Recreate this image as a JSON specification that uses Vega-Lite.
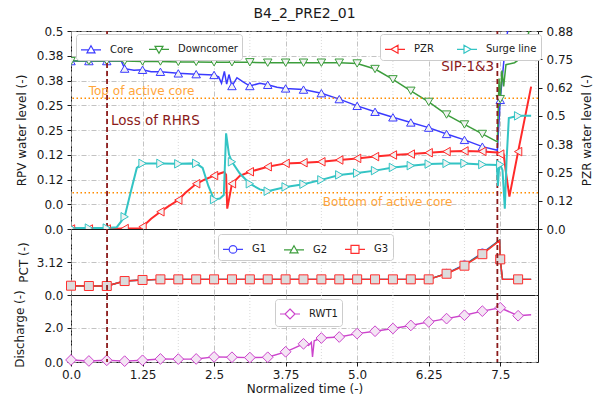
{
  "$schema": "https://vega.github.io/schema/vega-lite/v6.json",
  "background": "white",
  "padding": {"left": 12, "top": 6, "right": 5, "bottom": 5},
  "title": {"text": "B4_2_PRE2_01", "fontSize": 14, "font": "DejaVu Sans", "fontWeight": "normal", "anchor": "middle", "frame": "group", "offset": 4, "color": "#1a1a1a"},
  "datasets": {
    "rpv": [
      {"s":"Core","t":0,"v":0.424,"m":1},{"s":"Core","t":0.3125,"v":0.424,"m":1},{"s":"Core","t":0.625,"v":0.424,"m":1},{"s":"Core","t":0.88,"v":0.424},
      {"s":"Core","t":0.9375,"v":0.405,"m":1},{"s":"Core","t":1.1,"v":0.401},{"s":"Core","t":1.25,"v":0.402,"m":1},{"s":"Core","t":1.4,"v":0.397},
      {"s":"Core","t":1.5625,"v":0.397,"m":1},{"s":"Core","t":1.875,"v":0.393,"m":1},{"s":"Core","t":2.1875,"v":0.391,"m":1},{"s":"Core","t":2.5,"v":0.389,"m":1},
      {"s":"Core","t":2.58,"v":0.384},{"s":"Core","t":2.63,"v":0.368},{"s":"Core","t":2.68,"v":0.398},{"s":"Core","t":2.72,"v":0.366},{"s":"Core","t":2.76,"v":0.39},
      {"s":"Core","t":2.8125,"v":0.361,"m":1},{"s":"Core","t":2.9,"v":0.382},{"s":"Core","t":3.0,"v":0.372},{"s":"Core","t":3.125,"v":0.361,"m":1},{"s":"Core","t":3.3,"v":0.368},
      {"s":"Core","t":3.4375,"v":0.364,"m":1},{"s":"Core","t":3.6,"v":0.358},{"s":"Core","t":3.75,"v":0.355,"m":1},{"s":"Core","t":4.0625,"v":0.352,"m":1},
      {"s":"Core","t":4.375,"v":0.343,"m":1},{"s":"Core","t":4.6875,"v":0.328,"m":1},{"s":"Core","t":5.0,"v":0.311,"m":1},{"s":"Core","t":5.3125,"v":0.296,"m":1},
      {"s":"Core","t":5.625,"v":0.282,"m":1},{"s":"Core","t":5.9375,"v":0.269,"m":1},{"s":"Core","t":6.25,"v":0.256,"m":1},{"s":"Core","t":6.5625,"v":0.24,"m":1},
      {"s":"Core","t":6.875,"v":0.225,"m":1},{"s":"Core","t":7.1875,"v":0.208,"m":1},{"s":"Core","t":7.45,"v":0.199},{"s":"Core","t":7.5,"v":0.326,"m":1},
      {"s":"Core","t":7.58,"v":0.45},{"s":"Core","t":7.66,"v":0.53},{"s":"Core","t":8.04,"v":0.9},
      {"s":"Downcomer","t":0,"v":0.424,"m":1},{"s":"Downcomer","t":0.3125,"v":0.424,"m":1},{"s":"Downcomer","t":0.625,"v":0.424,"m":1},{"s":"Downcomer","t":0.9375,"v":0.424,"m":1},
      {"s":"Downcomer","t":1.25,"v":0.423,"m":1},{"s":"Downcomer","t":1.5625,"v":0.423,"m":1},{"s":"Downcomer","t":1.875,"v":0.422,"m":1},{"s":"Downcomer","t":2.1875,"v":0.422,"m":1},
      {"s":"Downcomer","t":2.5,"v":0.421,"m":1},{"s":"Downcomer","t":2.8125,"v":0.421,"m":1},{"s":"Downcomer","t":3.125,"v":0.421,"m":1},{"s":"Downcomer","t":3.4375,"v":0.42,"m":1},
      {"s":"Downcomer","t":3.75,"v":0.42,"m":1},{"s":"Downcomer","t":4.0625,"v":0.42,"m":1},{"s":"Downcomer","t":4.375,"v":0.42,"m":1},{"s":"Downcomer","t":4.6875,"v":0.42,"m":1},
      {"s":"Downcomer","t":5.0,"v":0.418,"m":1},{"s":"Downcomer","t":5.3125,"v":0.404,"m":1},{"s":"Downcomer","t":5.625,"v":0.378,"m":1},{"s":"Downcomer","t":5.9375,"v":0.349,"m":1},
      {"s":"Downcomer","t":6.25,"v":0.321,"m":1},{"s":"Downcomer","t":6.5625,"v":0.289,"m":1},{"s":"Downcomer","t":6.875,"v":0.264,"m":1},{"s":"Downcomer","t":7.1875,"v":0.24,"m":1},
      {"s":"Downcomer","t":7.45,"v":0.22},{"s":"Downcomer","t":7.47,"v":0.33},{"s":"Downcomer","t":7.48,"v":0.38},{"s":"Downcomer","t":7.49,"v":0.31},{"s":"Downcomer","t":7.5,"v":0.328,"m":1},
      {"s":"Downcomer","t":7.53,"v":0.4},{"s":"Downcomer","t":7.56,"v":0.36},{"s":"Downcomer","t":7.6,"v":0.415},{"s":"Downcomer","t":7.75,"v":0.42},{"s":"Downcomer","t":7.8,"v":0.425},
      {"s":"Downcomer","t":7.85,"v":0.44},{"s":"Downcomer","t":7.95,"v":0.46},{"s":"Downcomer","t":8.04,"v":0.53}
    ],
    "pzr": [
      {"s":"PZR","t":0,"v":0,"m":1},{"s":"PZR","t":0.3125,"v":0,"m":1},{"s":"PZR","t":0.625,"v":0,"m":1},{"s":"PZR","t":0.9375,"v":0.002,"m":1},{"s":"PZR","t":1.2,"v":0.002},
      {"s":"PZR","t":1.25,"v":0.01,"m":1},{"s":"PZR","t":1.4,"v":0.045},{"s":"PZR","t":1.5625,"v":0.076,"m":1},{"s":"PZR","t":1.7,"v":0.1},{"s":"PZR","t":1.875,"v":0.128,"m":1},
      {"s":"PZR","t":2.0,"v":0.16},{"s":"PZR","t":2.1875,"v":0.2,"m":1},{"s":"PZR","t":2.35,"v":0.22},{"s":"PZR","t":2.5,"v":0.236,"m":1},{"s":"PZR","t":2.6,"v":0.245},
      {"s":"PZR","t":2.68,"v":0.252},{"s":"PZR","t":2.71,"v":0.24},{"s":"PZR","t":2.73,"v":0.09},{"s":"PZR","t":2.76,"v":0.13},{"s":"PZR","t":2.8125,"v":0.2,"m":1},
      {"s":"PZR","t":2.95,"v":0.235},{"s":"PZR","t":3.125,"v":0.253,"m":1},{"s":"PZR","t":3.4375,"v":0.275,"m":1},{"s":"PZR","t":3.75,"v":0.29,"m":1},{"s":"PZR","t":4.0625,"v":0.293,"m":1},
      {"s":"PZR","t":4.375,"v":0.297,"m":1},{"s":"PZR","t":4.6875,"v":0.305,"m":1},{"s":"PZR","t":5.0,"v":0.312,"m":1},{"s":"PZR","t":5.3125,"v":0.32,"m":1},{"s":"PZR","t":5.625,"v":0.327,"m":1},
      {"s":"PZR","t":5.9375,"v":0.331,"m":1},{"s":"PZR","t":6.25,"v":0.337,"m":1},{"s":"PZR","t":6.5625,"v":0.342,"m":1},{"s":"PZR","t":6.875,"v":0.345,"m":1},{"s":"PZR","t":7.1875,"v":0.343,"m":1},
      {"s":"PZR","t":7.45,"v":0.338},{"s":"PZR","t":7.5,"v":0.331,"m":1},{"s":"PZR","t":7.56,"v":0.33},{"s":"PZR","t":7.6,"v":0.25},{"s":"PZR","t":7.66,"v":0.143},
      {"s":"PZR","t":7.8125,"v":0.342,"m":1},{"s":"PZR","t":8.04,"v":0.629},
      {"s":"Surge line","t":0,"v":0.004,"m":1},{"s":"Surge line","t":0.3125,"v":0.004,"m":1},{"s":"Surge line","t":0.625,"v":0.004,"m":1},{"s":"Surge line","t":0.8,"v":0.008},
      {"s":"Surge line","t":0.9375,"v":0.054,"m":1},{"s":"Surge line","t":1.05,"v":0.17},{"s":"Surge line","t":1.15,"v":0.27},{"s":"Surge line","t":1.25,"v":0.29,"m":1},
      {"s":"Surge line","t":1.5625,"v":0.29,"m":1},{"s":"Surge line","t":1.875,"v":0.288,"m":1},{"s":"Surge line","t":2.1875,"v":0.29,"m":1},{"s":"Surge line","t":2.3,"v":0.27},
      {"s":"Surge line","t":2.4,"v":0.19},{"s":"Surge line","t":2.5,"v":0.13,"m":1},{"s":"Surge line","t":2.6,"v":0.135},{"s":"Surge line","t":2.67,"v":0.15},
      {"s":"Surge line","t":2.71,"v":0.423},{"s":"Surge line","t":2.76,"v":0.33},{"s":"Surge line","t":2.8125,"v":0.297,"m":1},{"s":"Surge line","t":2.95,"v":0.245},
      {"s":"Surge line","t":3.125,"v":0.2,"m":1},{"s":"Surge line","t":3.3,"v":0.175},{"s":"Surge line","t":3.4375,"v":0.167,"m":1},{"s":"Surge line","t":3.75,"v":0.186,"m":1},
      {"s":"Surge line","t":4.0625,"v":0.198,"m":1},{"s":"Surge line","t":4.375,"v":0.217,"m":1},{"s":"Surge line","t":4.6875,"v":0.239,"m":1},{"s":"Surge line","t":5.0,"v":0.247,"m":1},
      {"s":"Surge line","t":5.3125,"v":0.258,"m":1},{"s":"Surge line","t":5.625,"v":0.272,"m":1},{"s":"Surge line","t":5.9375,"v":0.28,"m":1},{"s":"Surge line","t":6.25,"v":0.287,"m":1},
      {"s":"Surge line","t":6.5625,"v":0.29,"m":1},{"s":"Surge line","t":6.875,"v":0.29,"m":1},{"s":"Surge line","t":7.1875,"v":0.285,"m":1},{"s":"Surge line","t":7.44,"v":0.283},
      {"s":"Surge line","t":7.46,"v":0.19},{"s":"Surge line","t":7.48,"v":0.27},{"s":"Surge line","t":7.5,"v":0.285,"m":1},{"s":"Surge line","t":7.54,"v":0.26},
      {"s":"Surge line","t":7.58,"v":0.09},{"s":"Surge line","t":7.61,"v":0.3},{"s":"Surge line","t":7.65,"v":0.49},{"s":"Surge line","t":7.8125,"v":0.5,"m":1},{"s":"Surge line","t":8.04,"v":0.5}
    ],
    "pct": [
      {"s":"G1","t":0,"v":0.88,"m":1},{"s":"G1","t":0.3125,"v":0.85,"m":1},{"s":"G1","t":0.625,"v":0.85,"m":1},{"s":"G1","t":0.9375,"v":1.32,"m":1},{"s":"G1","t":1.25,"v":1.42,"m":1},
      {"s":"G1","t":1.5625,"v":1.48,"m":1},{"s":"G1","t":1.875,"v":1.48,"m":1},{"s":"G1","t":2.1875,"v":1.48,"m":1},{"s":"G1","t":2.5,"v":1.48,"m":1},{"s":"G1","t":2.8125,"v":1.48,"m":1},
      {"s":"G1","t":3.125,"v":1.48,"m":1},{"s":"G1","t":3.4375,"v":1.48,"m":1},{"s":"G1","t":3.75,"v":1.48,"m":1},{"s":"G1","t":4.0625,"v":1.48,"m":1},{"s":"G1","t":4.375,"v":1.48,"m":1},
      {"s":"G1","t":4.6875,"v":1.48,"m":1},{"s":"G1","t":5.0,"v":1.48,"m":1},{"s":"G1","t":5.3125,"v":1.48,"m":1},{"s":"G1","t":5.625,"v":1.48,"m":1},{"s":"G1","t":5.9375,"v":1.48,"m":1},
      {"s":"G1","t":6.25,"v":1.48,"m":1},{"s":"G1","t":6.5625,"v":2.05,"m":1},{"s":"G1","t":6.875,"v":2.86,"m":1},{"s":"G1","t":7.1875,"v":3.98,"m":1},{"s":"G1","t":7.49,"v":5.2},
      {"s":"G1","t":7.5,"v":3.37,"m":1},{"s":"G1","t":7.54,"v":1.48},{"s":"G1","t":7.8125,"v":1.48,"m":1},{"s":"G1","t":8.04,"v":1.48},
      {"s":"G2","t":0,"v":0.88,"m":1},{"s":"G2","t":0.3125,"v":0.85,"m":1},{"s":"G2","t":0.625,"v":0.85,"m":1},{"s":"G2","t":0.9375,"v":1.32,"m":1},{"s":"G2","t":1.25,"v":1.42,"m":1},
      {"s":"G2","t":1.5625,"v":1.48,"m":1},{"s":"G2","t":1.875,"v":1.48,"m":1},{"s":"G2","t":2.1875,"v":1.48,"m":1},{"s":"G2","t":2.5,"v":1.48,"m":1},{"s":"G2","t":2.8125,"v":1.48,"m":1},
      {"s":"G2","t":3.125,"v":1.48,"m":1},{"s":"G2","t":3.4375,"v":1.48,"m":1},{"s":"G2","t":3.75,"v":1.48,"m":1},{"s":"G2","t":4.0625,"v":1.48,"m":1},{"s":"G2","t":4.375,"v":1.48,"m":1},
      {"s":"G2","t":4.6875,"v":1.48,"m":1},{"s":"G2","t":5.0,"v":1.48,"m":1},{"s":"G2","t":5.3125,"v":1.48,"m":1},{"s":"G2","t":5.625,"v":1.48,"m":1},{"s":"G2","t":5.9375,"v":1.48,"m":1},
      {"s":"G2","t":6.25,"v":1.48,"m":1},{"s":"G2","t":6.5625,"v":2.03,"m":1},{"s":"G2","t":6.875,"v":2.82,"m":1},{"s":"G2","t":7.1875,"v":3.93,"m":1},{"s":"G2","t":7.49,"v":5.18},
      {"s":"G2","t":7.5,"v":3.37,"m":1},{"s":"G2","t":7.54,"v":1.48},{"s":"G2","t":7.8125,"v":1.48,"m":1},{"s":"G2","t":8.04,"v":1.48},
      {"s":"G3","t":0,"v":0.88,"m":1},{"s":"G3","t":0.3125,"v":0.85,"m":1},{"s":"G3","t":0.625,"v":0.85,"m":1},{"s":"G3","t":0.9375,"v":1.32,"m":1},{"s":"G3","t":1.25,"v":1.42,"m":1},
      {"s":"G3","t":1.5625,"v":1.48,"m":1},{"s":"G3","t":1.875,"v":1.48,"m":1},{"s":"G3","t":2.1875,"v":1.48,"m":1},{"s":"G3","t":2.5,"v":1.48,"m":1},{"s":"G3","t":2.8125,"v":1.48,"m":1},
      {"s":"G3","t":3.125,"v":1.48,"m":1},{"s":"G3","t":3.4375,"v":1.48,"m":1},{"s":"G3","t":3.75,"v":1.48,"m":1},{"s":"G3","t":4.0625,"v":1.48,"m":1},{"s":"G3","t":4.375,"v":1.48,"m":1},
      {"s":"G3","t":4.6875,"v":1.48,"m":1},{"s":"G3","t":5.0,"v":1.48,"m":1},{"s":"G3","t":5.3125,"v":1.48,"m":1},{"s":"G3","t":5.625,"v":1.48,"m":1},{"s":"G3","t":5.9375,"v":1.48,"m":1},
      {"s":"G3","t":6.25,"v":1.48,"m":1},{"s":"G3","t":6.5625,"v":2.01,"m":1},{"s":"G3","t":6.875,"v":2.77,"m":1},{"s":"G3","t":7.1875,"v":3.86,"m":1},{"s":"G3","t":7.49,"v":5.13},
      {"s":"G3","t":7.5,"v":3.37,"m":1},{"s":"G3","t":7.54,"v":1.48},{"s":"G3","t":7.8125,"v":1.48,"m":1},{"s":"G3","t":8.04,"v":1.48}
    ],
    "rwt": [
      {"s":"RWT1","t":0,"v":0.12,"m":1},{"s":"RWT1","t":0.3125,"v":0.06,"m":1},{"s":"RWT1","t":0.625,"v":0.1,"m":1},{"s":"RWT1","t":0.9375,"v":0.05,"m":1},{"s":"RWT1","t":1.25,"v":0.1,"m":1},
      {"s":"RWT1","t":1.5625,"v":0.18,"m":1},{"s":"RWT1","t":1.875,"v":0.17,"m":1},{"s":"RWT1","t":2.1875,"v":0.18,"m":1},{"s":"RWT1","t":2.5,"v":0.3,"m":1},{"s":"RWT1","t":2.8125,"v":0.28,"m":1},
      {"s":"RWT1","t":3.125,"v":0.26,"m":1},{"s":"RWT1","t":3.4375,"v":0.28,"m":1},{"s":"RWT1","t":3.75,"v":0.6,"m":1},{"s":"RWT1","t":3.9,"v":0.82},{"s":"RWT1","t":4.0625,"v":1.07,"m":1},
      {"s":"RWT1","t":4.15,"v":0.98},{"s":"RWT1","t":4.2,"v":1.15},{"s":"RWT1","t":4.22,"v":0.3},{"s":"RWT1","t":4.25,"v":1.25},{"s":"RWT1","t":4.375,"v":1.41,"m":1},
      {"s":"RWT1","t":4.6875,"v":1.47,"m":1},{"s":"RWT1","t":5.0,"v":1.67,"m":1},{"s":"RWT1","t":5.3125,"v":1.81,"m":1},{"s":"RWT1","t":5.625,"v":1.97,"m":1},{"s":"RWT1","t":5.9375,"v":2.15,"m":1},
      {"s":"RWT1","t":6.25,"v":2.36,"m":1},{"s":"RWT1","t":6.5625,"v":2.55,"m":1},{"s":"RWT1","t":6.875,"v":2.75,"m":1},{"s":"RWT1","t":7.1875,"v":2.99,"m":1},{"s":"RWT1","t":7.5,"v":3.19,"m":1},
      {"s":"RWT1","t":7.8125,"v":2.72,"m":1},{"s":"RWT1","t":8.04,"v":2.78}
    ],
    "minor": [{"t":0.625},{"t":1.875},{"t":3.125},{"t":4.375},{"t":5.625},{"t":6.875},{"t":8.125}],
    "events": [{"t":0.63},{"t":7.45}],
    "cores": [{"v":0.33},{"v":0.0917}],
    "coreText": [{"t":0.31,"v":0.338,"label":"Top of active core"},{"t":4.4,"v":0.058,"label":"Bottom of active core"}],
    "lossText": [{"t":0.7,"v":0.263,"label":"Loss of RHRS"}],
    "sipText": [{"t":7.395,"v":0.4,"label":"SIP-1&3"}]
  },
  "spacing": 0,
  "bounds": "flush",
  "resolve": {"scale": {"color": "independent", "x": "independent", "y": "independent"}, "legend": {"color": "independent"}},
  "vconcat": [
    {
      "width": 467, "height": 198,
      "resolve": {"scale": {"y": "independent", "color": "independent"}, "axis": {"y": "independent"}, "legend": {"color": "independent"}},
      "layer": [
        {
          "layer": [
            {"data": {"name": "minor"}, "mark": {"type": "rule", "color": "#d0d0d0", "strokeDash": [1, 2], "strokeWidth": 0.8},
             "encoding": {"x": {"field": "t", "type": "quantitative", "scale": {"domain": [0, 8.16], "nice": false, "zero": false}}}},
            {"data": {"name": "rpv"}, "mark": {"type": "line", "strokeWidth": 1.5, "clip": true},
             "encoding": {
               "x": {"field": "t", "type": "quantitative", "scale": {"domain": [0, 8.16], "nice": false, "zero": false},
                     "axis": {"labels": false, "ticks": false, "domain": false, "title": null, "grid": true, "tickCount": 20, "values": [0, 1.25, 2.5, 3.75, 5, 6.25, 7.5]}},
               "y": {"field": "v", "type": "quantitative", "scale": {"domain": [0, 0.5], "nice": false, "zero": false},
                     "axis": {"orient": "left", "values": [0, 0.0625, 0.125, 0.1875, 0.25, 0.3125, 0.375, 0.4375, 0.5], "tickCount": 20, "labelOverlap": false, "labelFlush": false,
                              "labelExpr": "datum.value >= 0.5 ? '0.5' : datum.value >= 0.375 ? '0.38' : datum.value >= 0.25 ? '0.25' : datum.value >= 0.125 ? '0.12' : '0.0'",
                              "title": "RPV water level (-)", "titleX": -50, "titleY": 99, "titleBaseline": "middle", "titleAngle": 270, "grid": true}},
               "color": {"field": "s", "type": "nominal", "scale": {"domain": ["Core", "Downcomer"], "range": ["#3a3aff", "#3c9d3c"]},
                         "legend": {"title": null, "orient": "none", "legendX": 5, "legendY": 3, "direction": "horizontal", "columnPadding": 12,
                                    "encode": {"symbols": {"update": {"fill": {"value": "white"}, "shape": {"signal": "datum.value === 'Core' ? 'M-1,0H-0.23M0.23,0H1M0,-0.4L0.4,0.3L-0.4,0.3Z' : 'M-1,0H-0.23M0.23,0H1M0,0.4L0.4,-0.3L-0.4,-0.3Z'"}}}}}}
             }},
            {"data": {"name": "cores"}, "mark": {"type": "rule", "color": "#ff8c00", "strokeDash": [1.5, 2.5], "strokeWidth": 1.6},
             "encoding": {"y": {"field": "v", "type": "quantitative", "scale": {"domain": [0, 0.5], "nice": false, "zero": false}}}},
            {"data": {"name": "rpv"}, "transform": [{"filter": "datum.s === 'Core' && datum.m === 1"}],
             "mark": {"type": "point", "shape": "triangle-up", "size": 72, "filled": true, "fill": "#f2f2f2", "stroke": "#3a3aff", "strokeWidth": 1, "opacity": 1, "clip": true},
             "encoding": {"x": {"field": "t", "type": "quantitative", "scale": {"domain": [0, 8.16], "nice": false, "zero": false}},
                          "y": {"field": "v", "type": "quantitative", "scale": {"domain": [0, 0.5], "nice": false, "zero": false}}}},
            {"data": {"name": "rpv"}, "transform": [{"filter": "datum.s === 'Downcomer' && datum.m === 1"}],
             "mark": {"type": "point", "shape": "triangle-down", "size": 72, "filled": true, "fill": "#f2f2f2", "stroke": "#3c9d3c", "strokeWidth": 1, "opacity": 1, "clip": true},
             "encoding": {"x": {"field": "t", "type": "quantitative", "scale": {"domain": [0, 8.16], "nice": false, "zero": false}},
                          "y": {"field": "v", "type": "quantitative", "scale": {"domain": [0, 0.5], "nice": false, "zero": false}}}},
            {"data": {"name": "events"}, "mark": {"type": "rule", "color": "#8b1a1a", "strokeDash": [5, 3], "strokeWidth": 1.8},
             "encoding": {"x": {"field": "t", "type": "quantitative", "scale": {"domain": [0, 8.16], "nice": false, "zero": false}}}},
            {"data": {"name": "coreText"}, "mark": {"type": "text", "align": "left", "baseline": "alphabetic", "fontSize": 12, "color": "#ffa53a", "font": "DejaVu Sans"},
             "encoding": {"x": {"field": "t", "type": "quantitative", "scale": {"domain": [0, 8.16], "nice": false, "zero": false}},
                          "y": {"field": "v", "type": "quantitative", "scale": {"domain": [0, 0.5], "nice": false, "zero": false}},
                          "text": {"field": "label"}}},
            {"data": {"name": "lossText"}, "mark": {"type": "text", "align": "left", "baseline": "alphabetic", "fontSize": 13.5, "color": "#8b1a1a", "font": "DejaVu Sans"},
             "encoding": {"x": {"field": "t", "type": "quantitative", "scale": {"domain": [0, 8.16], "nice": false, "zero": false}},
                          "y": {"field": "v", "type": "quantitative", "scale": {"domain": [0, 0.5], "nice": false, "zero": false}},
                          "text": {"field": "label"}}},
            {"data": {"name": "sipText"}, "mark": {"type": "text", "align": "right", "baseline": "alphabetic", "fontSize": 13.5, "color": "#8b1a1a", "font": "DejaVu Sans"},
             "encoding": {"x": {"field": "t", "type": "quantitative", "scale": {"domain": [0, 8.16], "nice": false, "zero": false}},
                          "y": {"field": "v", "type": "quantitative", "scale": {"domain": [0, 0.5], "nice": false, "zero": false}},
                          "text": {"field": "label"}}}
          ]
        },
        {
          "layer": [
            {"data": {"name": "pzr"}, "mark": {"type": "line", "strokeWidth": 2, "clip": true},
             "encoding": {
               "x": {"field": "t", "type": "quantitative", "scale": {"domain": [0, 8.16], "nice": false, "zero": false}},
               "y": {"field": "v", "type": "quantitative", "scale": {"domain": [0, 0.875], "nice": false, "zero": false},
                     "axis": {"orient": "right", "values": [0, 0.125, 0.25, 0.375, 0.5, 0.625, 0.75, 0.875], "tickCount": 20, "labelOverlap": false, "labelFlush": false,
                              "labelExpr": "['0.0','0.12','0.25','0.38','0.5','0.62','0.75','0.88'][round(datum.value*8)]",
                              "title": "PZR water level (-)", "titleX": 48, "titleY": 99, "titleBaseline": "middle", "titleAngle": 270, "grid": false}},
               "color": {"field": "s", "type": "nominal", "scale": {"domain": ["PZR", "Surge line"], "range": ["#ff2a2a", "#33c4c4"]},
                         "legend": {"title": null, "orient": "none", "legendX": 309, "legendY": 3, "direction": "horizontal",
                                    "encode": {"symbols": {"update": {"fill": {"value": "white"}, "shape": {"signal": "datum.value === 'PZR' ? 'M-1,0H-0.4M0.3,0H1M-0.4,0L0.3,-0.4L0.3,0.4Z' : 'M-1,0H-0.3M0.4,0H1M0.4,0L-0.3,-0.4L-0.3,0.4Z'"}}}}}}
             }},
            {"data": {"name": "pzr"}, "transform": [{"filter": "datum.s === 'PZR' && datum.m === 1"}],
             "mark": {"type": "point", "shape": "triangle-left", "size": 72, "filled": true, "fill": "#f2f2f2", "stroke": "#ff2a2a", "strokeWidth": 1, "opacity": 1, "clip": true},
             "encoding": {"x": {"field": "t", "type": "quantitative", "scale": {"domain": [0, 8.16], "nice": false, "zero": false}},
                          "y": {"field": "v", "type": "quantitative", "scale": {"domain": [0, 0.875], "nice": false, "zero": false}}}},
            {"data": {"name": "pzr"}, "transform": [{"filter": "datum.s === 'Surge line' && datum.m === 1"}],
             "mark": {"type": "point", "shape": "triangle-right", "size": 72, "filled": true, "fill": "#f2f2f2", "stroke": "#33c4c4", "strokeWidth": 1, "opacity": 1, "clip": true},
             "encoding": {"x": {"field": "t", "type": "quantitative", "scale": {"domain": [0, 8.16], "nice": false, "zero": false}},
                          "y": {"field": "v", "type": "quantitative", "scale": {"domain": [0, 0.875], "nice": false, "zero": false}}}}
          ]
        }
      ]
    },
    {
      "width": 467, "height": 66,
      "layer": [
        {"data": {"name": "minor"}, "mark": {"type": "rule", "color": "#d0d0d0", "strokeDash": [1, 2], "strokeWidth": 0.8},
         "encoding": {"x": {"field": "t", "type": "quantitative", "scale": {"domain": [0, 8.16], "nice": false, "zero": false}}}},
        {"data": {"name": "pct"}, "mark": {"type": "line", "strokeWidth": 1.4, "clip": true},
         "encoding": {
           "x": {"field": "t", "type": "quantitative", "scale": {"domain": [0, 8.16], "nice": false, "zero": false},
                 "axis": {"labels": false, "ticks": false, "domain": false, "title": null, "grid": true, "tickCount": 20, "values": [0, 1.25, 2.5, 3.75, 5, 6.25, 7.5]}},
           "y": {"field": "v", "type": "quantitative", "scale": {"domain": [0, 6.24], "nice": false, "zero": false},
                 "axis": {"values": [0, 3.12], "tickCount": 20, "labelOverlap": false, "labelFlush": false, "labelExpr": "datum.value == 0 ? '0.0' : '3.12'", "title": "PCT (-)", "titleX": -48, "titleY": 33, "titleBaseline": "middle", "titleAngle": 270, "grid": true}},
           "color": {"field": "s", "type": "nominal", "scale": {"domain": ["G1", "G2", "G3"], "range": ["#4444ff", "#3c9d3c", "#ff3030"]},
                     "legend": {"title": null, "orient": "none", "legendX": 147, "legendY": 5, "direction": "horizontal", "columnPadding": 14,
                                "encode": {"symbols": {"update": {"fill": {"value": "white"}, "shape": {"signal": "datum.value === 'G1' ? 'M-1,0H-0.38M0.38,0H1M-0.38,0A0.38,0.38,0,1,0,0.38,0A0.38,0.38,0,1,0,-0.38,0Z' : datum.value === 'G2' ? 'M-1,0H-0.23M0.23,0H1M0,-0.4L0.4,0.3L-0.4,0.3Z' : 'M-1,0H-0.4M0.4,0H1M-0.4,-0.4H0.4V0.4H-0.4Z'"}}}}}}
         }},
        {"data": {"name": "pct"}, "transform": [{"filter": "datum.s === 'G1' && datum.m === 1"}],
         "mark": {"type": "point", "shape": "circle", "size": 64, "filled": true, "fill": "#dcdcdc", "stroke": "#4444ff", "strokeWidth": 1, "opacity": 1},
         "encoding": {"x": {"field": "t", "type": "quantitative", "scale": {"domain": [0, 8.16], "nice": false, "zero": false}},
                      "y": {"field": "v", "type": "quantitative", "scale": {"domain": [0, 6.24], "nice": false, "zero": false}}}},
        {"data": {"name": "pct"}, "transform": [{"filter": "datum.s === 'G2' && datum.m === 1"}],
         "mark": {"type": "point", "shape": "triangle-up", "size": 72, "filled": true, "fill": "#dcdcdc", "stroke": "#3c9d3c", "strokeWidth": 1, "opacity": 1},
         "encoding": {"x": {"field": "t", "type": "quantitative", "scale": {"domain": [0, 8.16], "nice": false, "zero": false}},
                      "y": {"field": "v", "type": "quantitative", "scale": {"domain": [0, 6.24], "nice": false, "zero": false}}}},
        {"data": {"name": "pct"}, "transform": [{"filter": "datum.s === 'G3' && datum.m === 1"}],
         "mark": {"type": "point", "shape": "square", "size": 81, "filled": true, "fill": "#dcdcdc", "stroke": "#ff3030", "strokeWidth": 1, "opacity": 1},
         "encoding": {"x": {"field": "t", "type": "quantitative", "scale": {"domain": [0, 8.16], "nice": false, "zero": false}},
                      "y": {"field": "v", "type": "quantitative", "scale": {"domain": [0, 6.24], "nice": false, "zero": false}}}},
        {"data": {"name": "events"}, "mark": {"type": "rule", "color": "#8b1a1a", "strokeDash": [5, 3], "strokeWidth": 1.8},
         "encoding": {"x": {"field": "t", "type": "quantitative", "scale": {"domain": [0, 8.16], "nice": false, "zero": false}}}}
      ]
    },
    {
      "width": 467, "height": 67,
      "layer": [
        {"data": {"name": "minor"}, "mark": {"type": "rule", "color": "#d0d0d0", "strokeDash": [1, 2], "strokeWidth": 0.8},
         "encoding": {"x": {"field": "t", "type": "quantitative", "scale": {"domain": [0, 8.16], "nice": false, "zero": false}}}},
        {"data": {"name": "rwt"}, "mark": {"type": "line", "strokeWidth": 1.4, "clip": true},
         "encoding": {
           "x": {"field": "t", "type": "quantitative", "scale": {"domain": [0, 8.16], "nice": false, "zero": false},
                 "axis": {"values": [0, 1.25, 2.5, 3.75, 5, 6.25, 7.5], "tickCount": 20, "labelOverlap": false, "labelFlush": false, "labelExpr": "datum.value == 0 ? '0.0' : datum.value == 5 ? '5.0' : '' + datum.value",
                          "title": "Normalized time (-)", "titlePadding": 3, "grid": true, "domain": false, "ticks": true, "tickSize": 4, "labelPadding": 3}},
           "y": {"field": "v", "type": "quantitative", "scale": {"domain": [0, 3.94], "nice": false, "zero": false},
                 "axis": {"values": [0, 2], "tickCount": 20, "labelOverlap": false, "labelFlush": false, "labelExpr": "datum.value == 0 ? '0.0' : '2.0'", "title": "Discharge (-)", "titleX": -52, "titleY": 33.5, "titleBaseline": "middle", "titleAngle": 270, "grid": true}},
           "color": {"field": "s", "type": "nominal", "scale": {"domain": ["RWT1"], "range": ["#cc44cc"]},
                     "legend": {"title": null, "orient": "none", "legendX": 204, "legendY": 4, "direction": "horizontal",
                                "encode": {"symbols": {"update": {"fill": {"value": "white"}, "shape": {"value": "M-1,0H-0.5M0.5,0H1M0,-0.5L0.5,0L0,0.5L-0.5,0Z"}}}}}}
         }},
        {"data": {"name": "rwt"}, "transform": [{"filter": "datum.m === 1"}],
         "mark": {"type": "point", "shape": "diamond", "size": 115, "filled": true, "fill": "#f4e4f4", "stroke": "#cc44cc", "strokeWidth": 1, "opacity": 1},
         "encoding": {"x": {"field": "t", "type": "quantitative", "scale": {"domain": [0, 8.16], "nice": false, "zero": false}},
                      "y": {"field": "v", "type": "quantitative", "scale": {"domain": [0, 3.94], "nice": false, "zero": false}}}},
        {"data": {"name": "events"}, "mark": {"type": "rule", "color": "#8b1a1a", "strokeDash": [5, 3], "strokeWidth": 1.8},
         "encoding": {"x": {"field": "t", "type": "quantitative", "scale": {"domain": [0, 8.16], "nice": false, "zero": false}}}}
      ]
    }
  ],
  "config": {
    "font": "DejaVu Sans",
    "view": {"stroke": "#1a1a1a", "strokeWidth": 1},
    "axis": {"labelFont": "DejaVu Sans", "labelFontSize": 12, "labelColor": "#1a1a1a", "titleFont": "DejaVu Sans", "titleFontSize": 12, "titleFontWeight": "normal", "titleColor": "#1a1a1a",
             "tickColor": "#1a1a1a", "tickSize": 4, "labelPadding": 4, "domain": false, "labelFlush": false, "labelOverlap": false,
             "gridColor": "#b4b4b4", "gridDash": [5, 2, 1, 2], "gridWidth": 0.8},
    "legend": {"labelFont": "DejaVu Sans", "labelFontSize": 10, "labelColor": "#1a1a1a", "symbolSize": 400, "symbolStrokeWidth": 1.2, "labelOffset": 8, "columnPadding": 20,
               "padding": 4, "strokeColor": "#cccccc", "fillColor": "white", "cornerRadius": 3}
  }
}
